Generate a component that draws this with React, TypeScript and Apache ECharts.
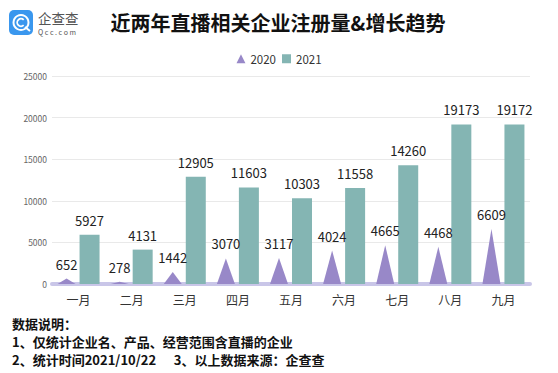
import React, { useEffect, useRef } from "react";
import * as echarts from "echarts";

const months = ["一月", "二月", "三月", "四月", "五月", "六月", "七月", "八月", "九月"];
const values2020 = [652, 278, 1442, 3070, 3117, 4024, 4665, 4468, 6609];
const values2021 = [5927, 4131, 12905, 11603, 10303, 11558, 14260, 19173, 19172];
const yTicks = { min: 0, max: 25000, interval: 5000 };
const titleText = "近两年直播相关企业注册量&增长趋势";
const notes = [
  "数据说明：",
  "1、仅统计企业名、产品、经营范围含直播的企业",
  "2、统计时间2021/10/22      3、以上数据来源：企查查",
];

const FONT = '"Noto Sans CJK SC", "Noto Sans", sans-serif';

export default function App() {
  const ref = useRef<HTMLDivElement>(null);
  useEffect(() => {
    if (!ref.current) return;
    const chart = echarts.init(ref.current, null, { renderer: "svg" });
    chart.setOption({
      animation: false,
      backgroundColor: "#ffffff",
      textStyle: { fontFamily: FONT },
      legend: {
        top: 48,
        left: "center",
        itemWidth: 9,
        itemHeight: 9,
        itemGap: 6,
        textStyle: { fontSize: 11.5, color: "#333", fontFamily: FONT },
        data: [
          { name: "2020", icon: "triangle" },
          { name: "2021", icon: "rect" },
        ],
      },
      grid: { left: 52, right: 28, top: 76, bottom: 89, containLabel: false },
      xAxis: {
        type: "category",
        data: months,
        axisLine: { show: true, lineStyle: { color: "#c9c6e8", width: 4 } },
        axisTick: { show: false },
        axisLabel: { fontSize: 12, color: "#333", margin: 9, fontFamily: FONT },
      },
      yAxis: {
        type: "value",
        min: yTicks.min,
        max: yTicks.max,
        interval: yTicks.interval,
        axisLine: { show: false },
        axisTick: { show: false },
        axisLabel: {
          fontSize: 8.5,
          color: "#666",
          margin: 5,
          fontFamily: FONT,
          formatter: (v: number) => String(v),
        },
        splitLine: { lineStyle: { color: "#e9e9e9", width: 1 } },
      },
      series: [
        {
          name: "2020",
          type: "pictorialBar",
          symbol: "triangle",
          symbolSize: [18, "100%"],
          symbolOffset: [-12, 0],
          itemStyle: { color: "#9888c8" },
          label: {
            show: true,
            position: "top",
            distance: 8,
            offset: [-12, 0],
            fontSize: 13,
            color: "#222",
            fontFamily: FONT,
          },
          data: values2020,
          z: 3,
        },
        {
          name: "2021",
          type: "pictorialBar",
          symbol: "rect",
          symbolSize: [20, "100%"],
          symbolOffset: [11, 0],
          itemStyle: { color: "#84b5b3" },
          label: {
            show: true,
            position: "top",
            distance: 8,
            offset: [11, 0],
            fontSize: 13,
            color: "#222",
            fontFamily: FONT,
          },
          data: values2021,
          z: 3,
        },
      ],
      graphic: [
        {
          type: "rect",
          shape: { x: 9, y: 10, width: 24, height: 25, r: 5 },
          style: { fill: "#3a97ee" },
        },
        {
          type: "ring",
          shape: { cx: 21, cy: 22.5, r: 8.5, r0: 6.5 },
          style: { fill: "#ffffff" },
        },
        {
          type: "arc",
          shape: { cx: 21, cy: 22.5, r: 3.8, startAngle: 0.8, endAngle: 5.5 },
          style: { stroke: "#ffffff", lineWidth: 1.8, fill: null },
        },
        {
          type: "line",
          shape: { x1: 25, y1: 27, x2: 30, y2: 31 },
          style: { stroke: "#ffffff", lineWidth: 2 },
        },
        {
          type: "text",
          x: 38,
          y: 17.5,
          style: {
            text: "企查查",
            fontSize: 13.5,
            fill: "#555",
            fontFamily: FONT,
            verticalAlign: "middle",
          },
        },
        {
          type: "text",
          x: 38,
          y: 31.5,
          style: {
            text: "Q c c . c o m",
            fontSize: 7,
            fill: "#555",
            fontFamily: FONT,
            verticalAlign: "middle",
          },
        },
        {
          type: "text",
          x: 278,
          y: 22,
          style: {
            text: titleText,
            fontSize: 20,
            fontWeight: "bold",
            fill: "#111",
            fontFamily: FONT,
            align: "center",
            verticalAlign: "middle",
          },
        },
        ...notes.map((t, i) => ({
          type: "text",
          x: 12,
          y: 323 + i * 18,
          style: {
            text: t,
            fontSize: 13,
            fontWeight: "bold",
            fill: "#111",
            fontFamily: FONT,
            verticalAlign: "middle",
          },
        })),
      ],
    });
    return () => chart.dispose();
  }, []);
  return <div ref={ref} style={{ width: 558, height: 373, position: "absolute", left: 0, top: 0 }} />;
}
